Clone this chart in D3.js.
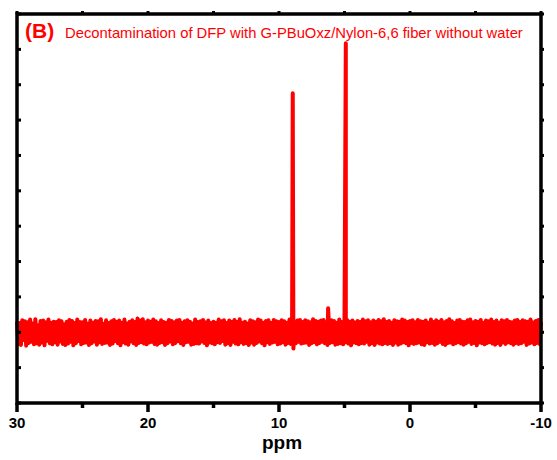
<!DOCTYPE html>
<html>
<head>
<meta charset="utf-8">
<script src="https://cdn.jsdelivr.net/npm/d3@7"></script>
<style>
  body { margin: 0; background: #fff; }
  svg { display: block; font-family: Arial, "Liberation Sans", sans-serif; }
</style>
</head>
<body>
<svg id="chart"></svg>
<script>
const width = 557;
const height = 460;
const margin = { top: 14, right: 16, bottom: 57, left: 17 };

// x axis ticks (ppm)
const xTicks = [30, 20, 10, 0, -10];
const xMinorTicks = [25, 15, 5, -5];

// noise baseline, one value every 0.1 ppm from 30 down to -10
const noiseStart = 30;
const noiseStep = 0.1;
const noise = [
  .30,-.33,.26,-.36,.34,-.22,.31,-.38,.28,-.30,.36,-.27,.25,-.34,.37,-.31,.20,-.35,.32,-.29,
  .33,-.37,.28,-.24,.36,-.31,.27,-.34,.30,-.28,.29,-.35,.34,-.26,.31,-.33,.23,-.36,.30,-.32,
  .35,-.27,.32,-.37,.26,-.31,.36,-.25,.29,-.34,.28,-.30,.35,-.29,.24,-.36,.33,-.31,.27,-.26,
  .32,-.35,.31,-.28,.37,-.33,.24,-.30,.34,-.29,.26,-.36,.31,-.32,.35,-.25,.30,-.31,.33,-.37,
  .27,-.28,.36,-.32,.25,-.35,.30,-.26,.34,-.31,.29,-.36,.39,-.30,.33,-.28,.37,-.32,.28,-.34,
  .33,-.29,.30,-.27,.36,-.33,.31,-.35,.26,-.30,.34,-.28,.29,-.36,.27,-.31,.35,-.26,.32,-.34,
  .28,-.30,.33,-.25,.35,-.31,.27,-.36,.31,-.28,.34,-.27,.30,-.35,.25,-.33,.36,-.31,.29,-.32,
  .31,-.26,.35,-.30,.28,-.37,.33,-.29,.26,-.31,.30,-.34,.27,-.28,.36,-.30,.31,-.25,.34,-.35,
  .26,-.31,.33,-.36,.30,-.27,.35,-.32,.29,-.34,.37,-.28,.27,-.33,.30,-.31,.25,-.36,.34,-.29,
  .31,-.35,.28,-.30,.36,-.26,.33,-.31,.27,-.37,.32,-.28,.34,-.33,.26,-.29,.35,-.27,.31,-.34,
  .29,-.32,.34,-.28,.31,-.35,.27,-.30,.36,-.33,.30,-.46,.28,-.31,.33,-.27,.35,-.32,.29,-.30,
  .34,-.29,.31,-.36,.28,-.31,.37,-.28,.32,-.34,.30,-.30,.33,-.27,.35,-.31,.29,-.36,.31,-.30,
  .34,-.28,.32,-.35,.27,-.33,.36,-.31,.29,-.34,.31,-.28,.35,-.32,.30,-.37,.33,-.29,.28,-.31,
  .32,-.34,.29,-.30,.36,-.32,.31,-.27,.34,-.35,.28,-.31,.33,-.36,.30,-.29,.35,-.32,.31,-.34,
  .37,-.30,.29,-.33,.32,-.31,.27,-.36,.34,-.29,.31,-.35,.30,-.32,.36,-.28,.33,-.31,.29,-.37,
  .32,-.30,.34,-.33,.28,-.31,.35,-.29,.31,-.34,.30,-.36,.33,-.28,.27,-.32,.36,-.30,.29,-.35,
  .34,-.31,.30,-.27,.35,-.33,.28,-.36,.32,-.30,.37,-.29,.31,-.34,.26,-.31,.33,-.28,.35,-.32,
  .30,-.35,.29,-.31,.34,-.27,.36,-.33,.28,-.30,.32,-.37,.30,-.29,.35,-.31,.27,-.34,.33,-.30,
  .31,-.28,.36,-.32,.29,-.35,.33,-.30,.27,-.36,.34,-.29,.31,-.33,.35,-.28,.30,-.31,.28,-.35,
  .33,-.30,.35,-.33,.29,-.31,.34,-.27,.31,-.36,.30,-.32,.36,-.29,.28,-.34,.32,-.30,.35,-.33,
  .30
];

// peaks
const peakPpm = [8.95, 6.25, 4.9];
const peakHeight = [6.76, 0.68, 8.17];

const svg = d3.select("#chart")
    .attr("width", width)
    .attr("height", height);

const x = d3.scaleLinear()
    .domain([30, -10])
    .range([margin.left, width - margin.right]);

const y = d3.scaleLinear()
    .domain([-2, 9])
    .range([height - margin.bottom, margin.top]);

const yTicks = d3.range(-2, 10);

// spectrum points
const points = noise.map((v, i) => ({ ppm: noiseStart - i * noiseStep, v: v }));
peakPpm.forEach((p, i) => points.push({ ppm: p, v: peakHeight[i] }));
points.sort((a, b) => b.ppm - a.ppm);

const line = d3.line()
    .x(d => x(d.ppm))
    .y(d => y(d.v));

svg.append("path")
    .datum(points)
    .attr("d", line)
    .attr("fill", "none")
    .attr("stroke", "#ff0000")
    .attr("stroke-width", 4)
    .attr("stroke-linejoin", "round");

// frame
const x0 = x(30), x1 = x(-10), y0 = y(-2), y1 = y(9);

// bottom axis
const bottom = svg.append("g");
bottom.selectAll("line.major").data(xTicks).join("line")
    .attr("class", "major")
    .attr("x1", d => x(d)).attr("x2", d => x(d))
    .attr("y1", y0).attr("y2", y0 + 9)
    .attr("stroke", "#000").attr("stroke-width", 3.5);
bottom.selectAll("line.minor").data(xMinorTicks).join("line")
    .attr("class", "minor")
    .attr("x1", d => x(d)).attr("x2", d => x(d))
    .attr("y1", y0).attr("y2", y0 + 5)
    .attr("stroke", "#000").attr("stroke-width", 3.5);
bottom.selectAll("text").data(xTicks).join("text")
    .attr("x", d => x(d))
    .attr("y", 428)
    .attr("text-anchor", "middle")
    .style("font-size", "15px")
    .style("font-weight", "bold")
    .text(d => d);

// top axis ticks
svg.selectAll("line.top").data(xTicks.concat(xMinorTicks)).join("line")
    .attr("class", "top")
    .attr("x1", d => x(d)).attr("x2", d => x(d))
    .attr("y1", y1).attr("y2", y1 - 3)
    .attr("stroke", "#000").attr("stroke-width", 3);

// left and right ticks
svg.selectAll("line.left").data(yTicks).join("line")
    .attr("class", "left")
    .attr("x1", x0).attr("x2", x0 + 4)
    .attr("y1", d => y(d)).attr("y2", d => y(d))
    .attr("stroke", "#000").attr("stroke-width", 3);
svg.selectAll("line.right").data(yTicks).join("line")
    .attr("class", "right")
    .attr("x1", x1).attr("x2", x1 + 3)
    .attr("y1", d => y(d)).attr("y2", d => y(d))
    .attr("stroke", "#000").attr("stroke-width", 3);

svg.append("rect")
    .attr("x", x0).attr("y", y1)
    .attr("width", x1 - x0).attr("height", y0 - y1)
    .attr("fill", "none")
    .attr("stroke", "#000")
    .attr("stroke-width", 3.5);

// axis title
svg.append("text")
    .attr("x", 282)
    .attr("y", 449)
    .attr("text-anchor", "middle")
    .style("font-size", "19px")
    .style("font-weight", "bold")
    .text("ppm");

// chart title
const title = svg.append("text")
    .attr("x", 25)
    .attr("y", 38)
    .attr("fill", "#ff0000");
title.append("tspan")
    .style("font-size", "21px")
    .style("font-weight", "bold")
    .text("(B)");
title.append("tspan")
    .attr("x", 65)
    .style("font-size", "14.8px")
    .text("Decontamination of DFP with G-PBuOxz/Nylon-6,6 fiber without water");
</script>
</body>
</html>
